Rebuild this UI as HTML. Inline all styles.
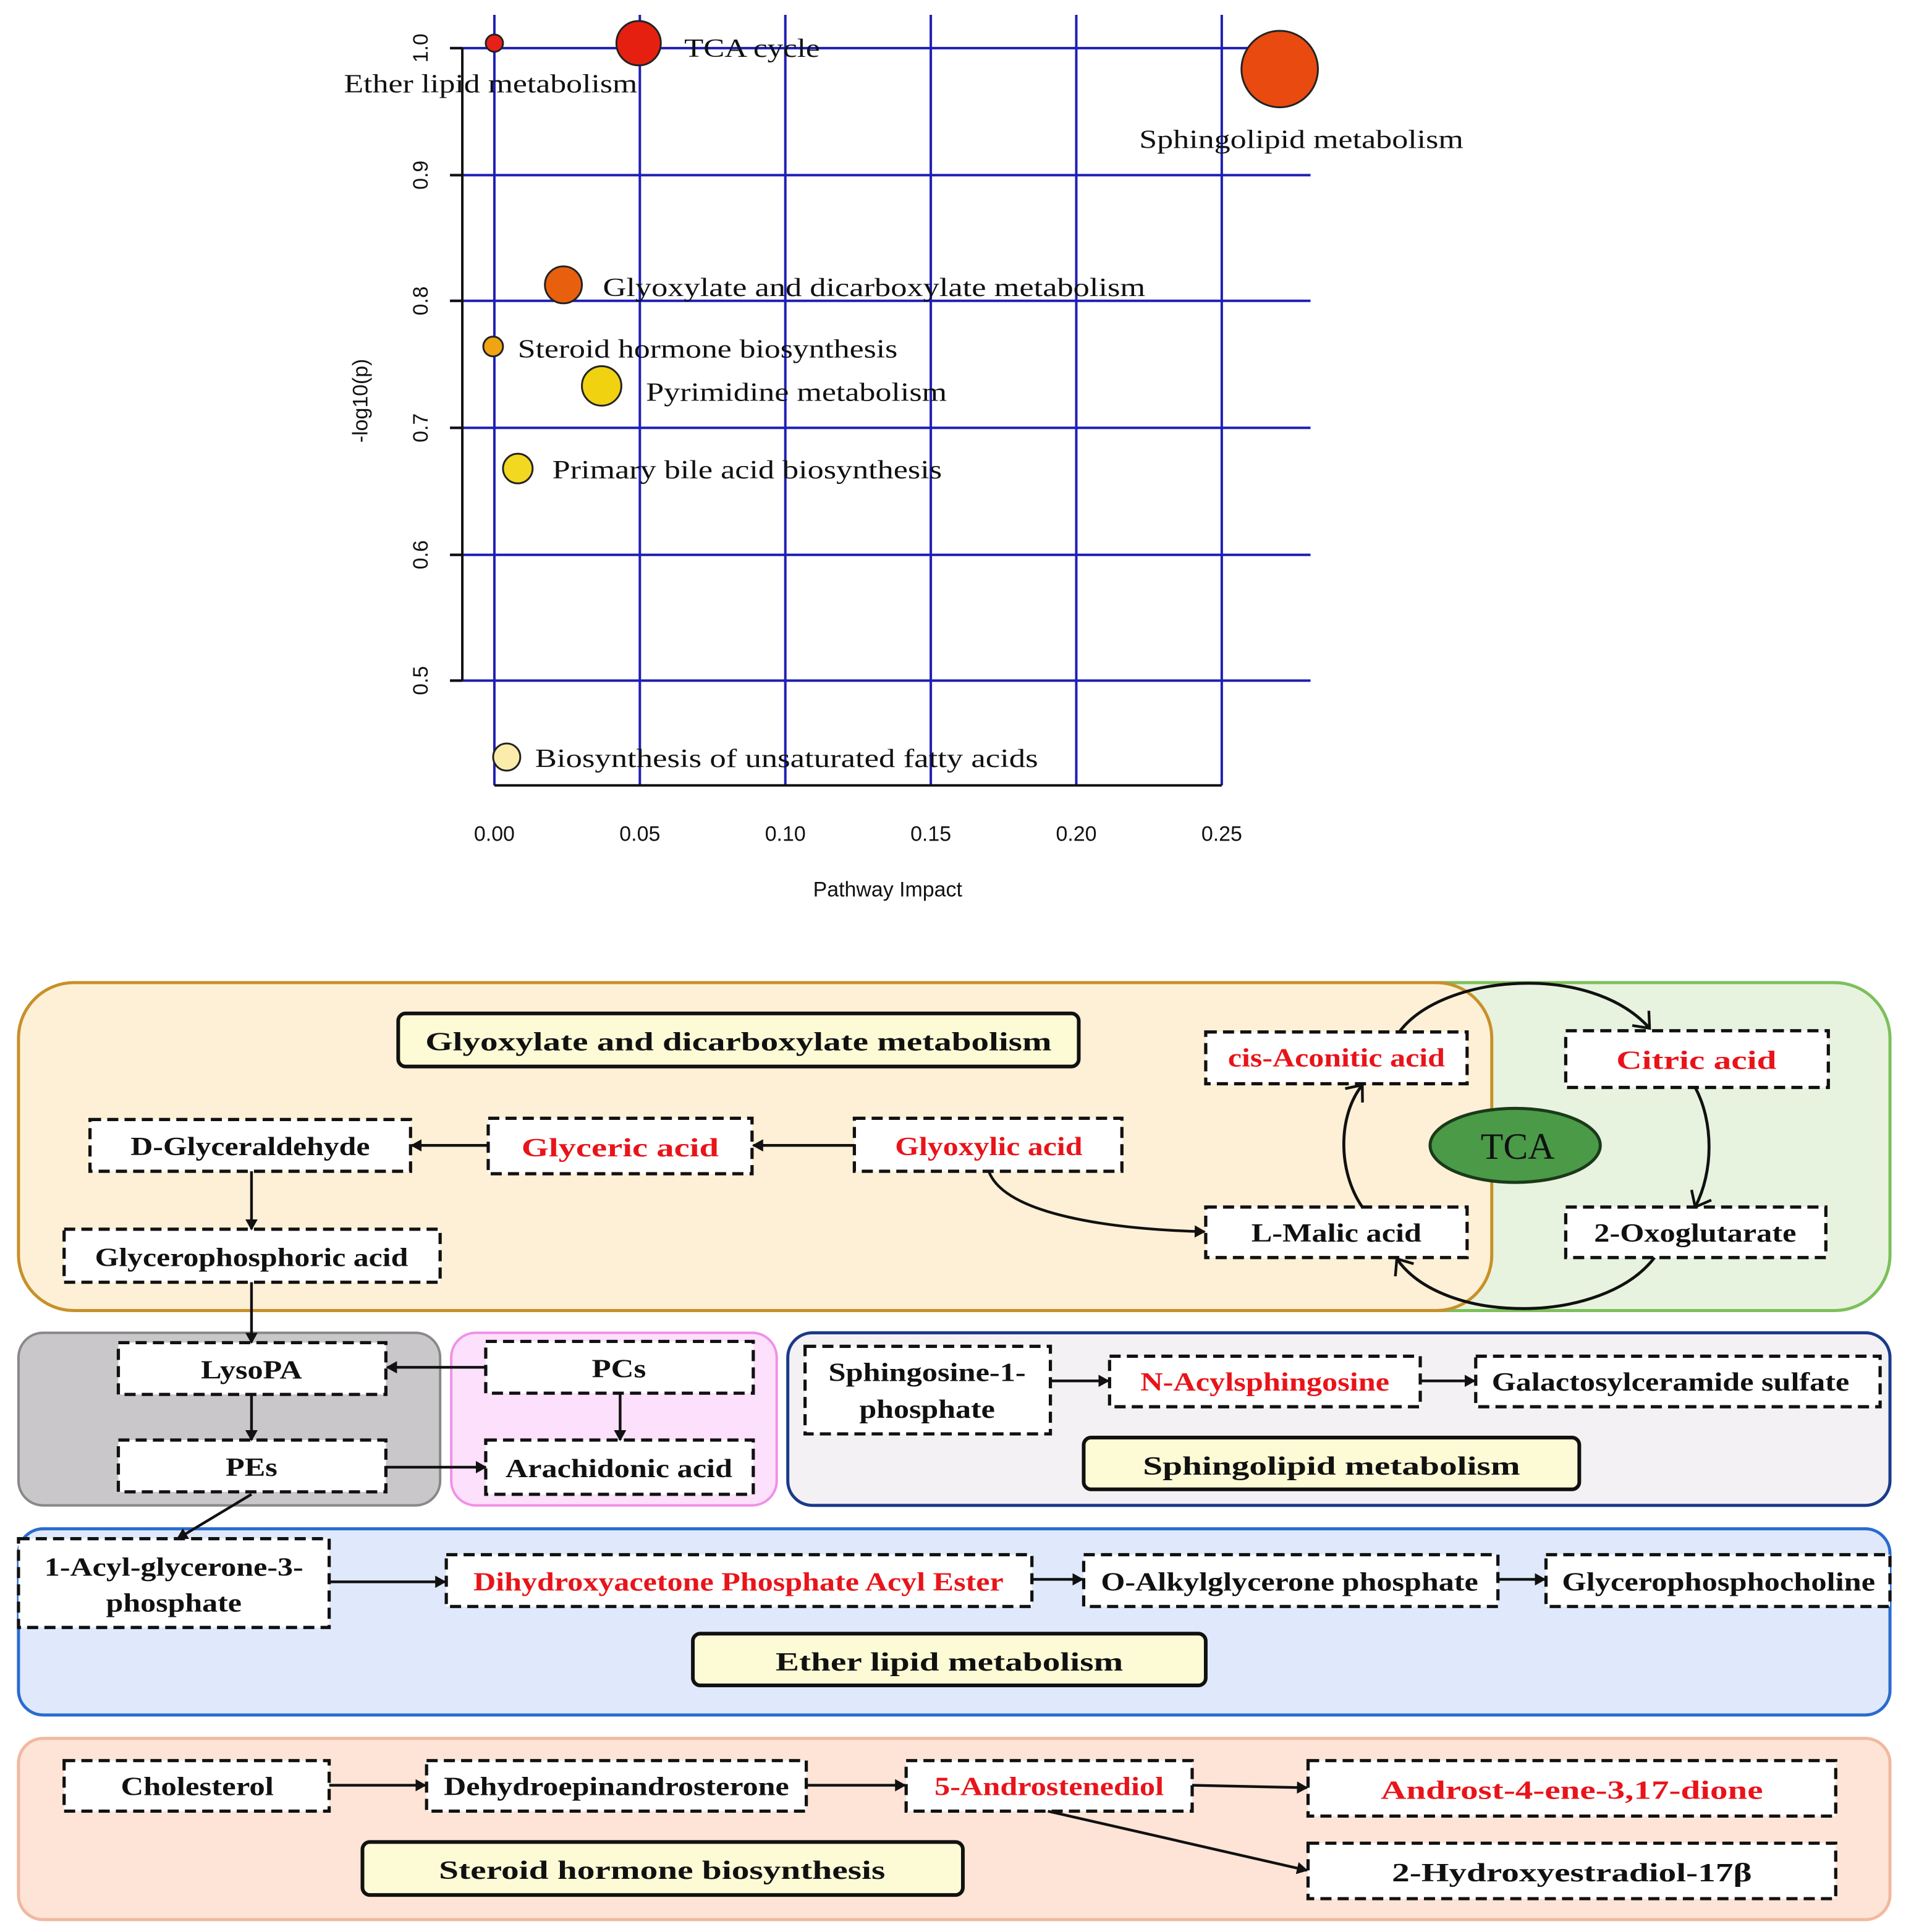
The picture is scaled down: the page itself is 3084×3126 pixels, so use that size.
<!DOCTYPE html>
<html><head><meta charset="utf-8"><style>
html,body{margin:0;padding:0;background:#fff;}
svg{display:block;}
.lab{font-family:"Liberation Serif",serif;font-size:21px;fill:#111;}
.tk{font-family:"Liberation Sans",sans-serif;font-size:17px;fill:#111;}
.n{font-family:"Liberation Serif",serif;font-weight:bold;font-size:21px;fill:#111;}
.r{fill:#e8141a;}
.box{fill:#fff;stroke:#111;stroke-width:2.6;stroke-dasharray:9 5;}
.ttl{fill:#fdfbd6;stroke:#111;stroke-width:3;}
.ar{stroke:#111;stroke-width:2.2;fill:none;}
.cv{stroke:#111;stroke-width:2.4;fill:none;}
.g{stroke:#1f1fb5;stroke-width:2;}
</style></head><body>
<svg width="3084" height="3126" viewBox="0 0 1546 1567" xmlns="http://www.w3.org/2000/svg">
<defs>
<marker id="a" markerWidth="10" markerHeight="10" refX="8" refY="5" orient="auto" markerUnits="userSpaceOnUse"><path d="M0,0 L9,5 L0,10 z" fill="#111"/></marker>
<marker id="o" markerWidth="24" markerHeight="24" refX="12" refY="12" orient="auto" markerUnits="userSpaceOnUse"><path d="M1,3 L12,12 L1,21" fill="none" stroke="#111" stroke-width="2.2"/></marker>
</defs>
<rect width="1546" height="1567" fill="#fff"/>
<!-- chart grid -->
<g class="g">
<line x1="365" y1="39" x2="1063" y2="39"/><line x1="365" y1="142" x2="1063" y2="142"/><line x1="365" y1="244" x2="1063" y2="244"/><line x1="365" y1="347" x2="1063" y2="347"/><line x1="365" y1="450" x2="1063" y2="450"/><line x1="365" y1="552" x2="1063" y2="552"/>
<line x1="401" y1="12" x2="401" y2="637"/><line x1="519" y1="12" x2="519" y2="637"/><line x1="637" y1="12" x2="637" y2="637"/><line x1="755" y1="12" x2="755" y2="637"/><line x1="873" y1="12" x2="873" y2="637"/><line x1="991" y1="12" x2="991" y2="637"/>
</g>
<g stroke="#111" stroke-width="2">
<line x1="375" y1="39" x2="375" y2="552"/>
<line x1="365" y1="39" x2="375" y2="39"/><line x1="365" y1="142" x2="375" y2="142"/><line x1="365" y1="244" x2="375" y2="244"/><line x1="365" y1="347" x2="375" y2="347"/><line x1="365" y1="450" x2="375" y2="450"/><line x1="365" y1="552" x2="375" y2="552"/>
<line x1="401" y1="637" x2="991" y2="637"/>
</g>
<g class="tk" text-anchor="middle">
<text transform="translate(347,39) rotate(-90)">1.0</text>
<text transform="translate(347,142) rotate(-90)">0.9</text>
<text transform="translate(347,244) rotate(-90)">0.8</text>
<text transform="translate(347,347) rotate(-90)">0.7</text>
<text transform="translate(347,450) rotate(-90)">0.6</text>
<text transform="translate(347,552) rotate(-90)">0.5</text>
<text transform="translate(298,325) rotate(-90)">-log10(p)</text>
<text x="401" y="682">0.00</text><text x="519" y="682">0.05</text><text x="637" y="682">0.10</text><text x="755" y="682">0.15</text><text x="873" y="682">0.20</text><text x="991" y="682">0.25</text>
<text x="720" y="727">Pathway Impact</text>
</g>
<g stroke="#222" stroke-width="1.5">
<circle cx="401" cy="35" r="7" fill="#e8201a"/>
<circle cx="518" cy="35" r="18" fill="#e62010"/>
<circle cx="1038" cy="56" r="31" fill="#e84a10"/>
<circle cx="457" cy="231" r="15" fill="#e8600e"/>
<circle cx="400" cy="281" r="8" fill="#f0a412"/>
<circle cx="488" cy="313" r="16" fill="#f0d210"/>
<circle cx="420" cy="380" r="12" fill="#f2d820"/>
<circle cx="411" cy="614" r="11" fill="#fcecac"/>
</g>
<g class="lab">
<text x="555" y="46" textLength="110" lengthAdjust="spacingAndGlyphs">TCA cycle</text>
<text x="279" y="75" textLength="238" lengthAdjust="spacingAndGlyphs">Ether lipid metabolism</text>
<text x="924" y="120" textLength="263" lengthAdjust="spacingAndGlyphs">Sphingolipid metabolism</text>
<text x="489" y="240" textLength="440" lengthAdjust="spacingAndGlyphs">Glyoxylate and dicarboxylate metabolism</text>
<text x="420" y="290" textLength="308" lengthAdjust="spacingAndGlyphs">Steroid hormone biosynthesis</text>
<text x="524" y="325" textLength="244" lengthAdjust="spacingAndGlyphs">Pyrimidine metabolism</text>
<text x="448" y="388" textLength="316" lengthAdjust="spacingAndGlyphs">Primary bile acid biosynthesis</text>
<text x="434" y="622" textLength="408" lengthAdjust="spacingAndGlyphs">Biosynthesis of unsaturated fatty acids</text>
</g>

<!-- panels -->
<rect x="1120" y="797" width="413" height="266" rx="45" fill="#e8f3df" stroke="#7cc05a" stroke-width="2.5"/>
<rect x="15" y="797" width="1195" height="266" rx="45" fill="#fdf0d6" stroke="#c8902a" stroke-width="2.5"/>
<rect x="15" y="1081" width="342" height="140" rx="20" fill="#c9c7c9" stroke="#888" stroke-width="2"/>
<rect x="366" y="1081" width="264" height="140" rx="20" fill="#fde0fb" stroke="#f090e8" stroke-width="2"/>
<rect x="639" y="1081" width="894" height="140" rx="20" fill="#f3f1f3" stroke="#1a3a8a" stroke-width="2.5"/>
<rect x="15" y="1240" width="1518" height="151" rx="20" fill="#dfe9fb" stroke="#2a6bd0" stroke-width="2.5"/>
<rect x="15" y="1410" width="1518" height="147" rx="20" fill="#fde4d6" stroke="#f1b9a0" stroke-width="2.5"/>

<!-- title boxes -->
<rect class="ttl" x="323" y="822" width="552" height="43" rx="6"/>
<text class="n" x="599" y="852" text-anchor="middle" font-size="24" textLength="508" lengthAdjust="spacingAndGlyphs">Glyoxylate and dicarboxylate metabolism</text>
<rect class="ttl" x="879" y="1166" width="402" height="42" rx="6"/>
<text class="n" x="1080" y="1196" text-anchor="middle" font-size="24" textLength="306" lengthAdjust="spacingAndGlyphs">Sphingolipid metabolism</text>
<rect class="ttl" x="562" y="1325" width="416" height="42" rx="6"/>
<text class="n" x="770" y="1355" text-anchor="middle" font-size="24" textLength="282" lengthAdjust="spacingAndGlyphs">Ether lipid metabolism</text>
<rect class="ttl" x="294" y="1494" width="487" height="43" rx="6"/>
<text class="n" x="537" y="1524" text-anchor="middle" font-size="24" textLength="362" lengthAdjust="spacingAndGlyphs">Steroid hormone biosynthesis</text>

<!-- nodes -->
<g>
<rect class="box" x="73" y="908" width="260" height="42"/><text class="n" x="203" y="937" text-anchor="middle" textLength="194" lengthAdjust="spacingAndGlyphs">D-Glyceraldehyde</text>
<rect class="box" x="396" y="907" width="214" height="45"/><text class="n r" x="503" y="938" text-anchor="middle" font-size="24" textLength="160" lengthAdjust="spacingAndGlyphs">Glyceric acid</text>
<rect class="box" x="693" y="907" width="217" height="43"/><text class="n r" x="802" y="937" text-anchor="middle" textLength="152" lengthAdjust="spacingAndGlyphs">Glyoxylic acid</text>
<rect class="box" x="52" y="997" width="305" height="43"/><text class="n" x="204" y="1027" text-anchor="middle" textLength="254" lengthAdjust="spacingAndGlyphs">Glycerophosphoric acid</text>
<rect class="box" x="978" y="837" width="212" height="42"/><text class="n r" x="1084" y="865" text-anchor="middle" textLength="176" lengthAdjust="spacingAndGlyphs">cis-Aconitic acid</text>
<rect class="box" x="1270" y="836" width="213" height="46"/><text class="n r" x="1376" y="867" text-anchor="middle" font-size="24" textLength="130" lengthAdjust="spacingAndGlyphs">Citric acid</text>
<rect class="box" x="978" y="979" width="212" height="41"/><text class="n" x="1084" y="1007" text-anchor="middle" textLength="138" lengthAdjust="spacingAndGlyphs">L-Malic acid</text>
<rect class="box" x="1270" y="979" width="211" height="41"/><text class="n" x="1375" y="1007" text-anchor="middle" textLength="164" lengthAdjust="spacingAndGlyphs">2-Oxoglutarate</text>
<ellipse cx="1229" cy="929" rx="69" ry="30" fill="#4a9a48" stroke="#1a3a1a" stroke-width="2.5"/>
<text x="1231" y="940" text-anchor="middle" font-family="Liberation Serif,serif" font-size="30" fill="#111">TCA</text>

<rect class="box" x="96" y="1089" width="217" height="42"/><text class="n" x="204" y="1118" text-anchor="middle" textLength="82" lengthAdjust="spacingAndGlyphs">LysoPA</text>
<rect class="box" x="96" y="1168" width="217" height="42"/><text class="n" x="204" y="1197" text-anchor="middle" textLength="42" lengthAdjust="spacingAndGlyphs">PEs</text>
<rect class="box" x="394" y="1088" width="217" height="42"/><text class="n" x="502" y="1117" text-anchor="middle" textLength="44" lengthAdjust="spacingAndGlyphs">PCs</text>
<rect class="box" x="394" y="1168" width="217" height="44"/><text class="n" x="502" y="1198" text-anchor="middle" textLength="184" lengthAdjust="spacingAndGlyphs">Arachidonic acid</text>
<rect class="box" x="653" y="1092" width="199" height="71"/><text class="n" x="752" y="1120" text-anchor="middle" textLength="160" lengthAdjust="spacingAndGlyphs">Sphingosine-1-</text><text class="n" x="752" y="1150" text-anchor="middle" textLength="110" lengthAdjust="spacingAndGlyphs">phosphate</text>
<rect class="box" x="900" y="1100" width="252" height="41"/><text class="n r" x="1026" y="1128" text-anchor="middle" textLength="202" lengthAdjust="spacingAndGlyphs">N-Acylsphingosine</text>
<rect class="box" x="1197" y="1100" width="328" height="41"/><text class="n" x="1355" y="1128" text-anchor="middle" textLength="290" lengthAdjust="spacingAndGlyphs">Galactosylceramide sulfate</text>

<rect class="box" x="15" y="1248" width="252" height="72"/><text class="n" x="141" y="1278" text-anchor="middle" textLength="210" lengthAdjust="spacingAndGlyphs">1-Acyl-glycerone-3-</text><text class="n" x="141" y="1307" text-anchor="middle" textLength="110" lengthAdjust="spacingAndGlyphs">phosphate</text>
<rect class="box" x="362" y="1261" width="475" height="42"/><text class="n r" x="599" y="1290" text-anchor="middle" textLength="430" lengthAdjust="spacingAndGlyphs">Dihydroxyacetone Phosphate Acyl Ester</text>
<rect class="box" x="879" y="1261" width="336" height="42"/><text class="n" x="1046" y="1290" text-anchor="middle" textLength="306" lengthAdjust="spacingAndGlyphs">O-Alkylglycerone phosphate</text>
<rect class="box" x="1254" y="1261" width="279" height="42"/><text class="n" x="1394" y="1290" text-anchor="middle" textLength="254" lengthAdjust="spacingAndGlyphs">Glycerophosphocholine</text>

<rect class="box" x="52" y="1428" width="215" height="41"/><text class="n" x="160" y="1456" text-anchor="middle" textLength="124" lengthAdjust="spacingAndGlyphs">Cholesterol</text>
<rect class="box" x="346" y="1428" width="308" height="41"/><text class="n" x="500" y="1456" text-anchor="middle" textLength="280" lengthAdjust="spacingAndGlyphs">Dehydroepinandrosterone</text>
<rect class="box" x="735" y="1428" width="232" height="41"/><text class="n r" x="851" y="1456" text-anchor="middle" textLength="186" lengthAdjust="spacingAndGlyphs">5-Androstenediol</text>
<rect class="box" x="1061" y="1428" width="428" height="45"/><text class="n r" x="1275" y="1459" text-anchor="middle" font-size="24" textLength="310" lengthAdjust="spacingAndGlyphs">Androst-4-ene-3,17-dione</text>
<rect class="box" x="1061" y="1495" width="428" height="45"/><text class="n" x="1275" y="1526" text-anchor="middle" font-size="24" textLength="292" lengthAdjust="spacingAndGlyphs">2-Hydroxyestradiol-17β</text>
</g>

<!-- connectors -->
<g class="ar" marker-end="url(#a)">
<line x1="396" y1="929" x2="334" y2="929"/>
<line x1="693" y1="929" x2="611" y2="929"/>
<line x1="204" y1="950" x2="204" y2="997"/>
<line x1="204" y1="1040" x2="204" y2="1089"/>
<line x1="394" y1="1109" x2="314" y2="1109"/>
<line x1="204" y1="1131" x2="204" y2="1168"/>
<line x1="503" y1="1130" x2="503" y2="1168"/>
<line x1="313" y1="1190" x2="394" y2="1190"/>
<line x1="204" y1="1212" x2="144" y2="1248"/>
<line x1="852" y1="1120" x2="899" y2="1120"/>
<line x1="1152" y1="1120" x2="1196" y2="1120"/>
<line x1="267" y1="1283" x2="361" y2="1283"/>
<line x1="837" y1="1281" x2="878" y2="1281"/>
<line x1="1215" y1="1281" x2="1253" y2="1281"/>
<line x1="267" y1="1448" x2="345" y2="1448"/>
<line x1="654" y1="1448" x2="734" y2="1448"/>
<line x1="967" y1="1448" x2="1060" y2="1450"/>
<line x1="850" y1="1469" x2="1060" y2="1517"/>
<path d="M802,950 C815,985 900,997 977,999"/>
</g>
<g class="cv" marker-end="url(#o)">
<path d="M1105,979 C1085,950 1085,905 1105,880"/>
<path d="M1135,837 C1170,790 1290,780 1338,834"/>
<path d="M1375,882 C1390,910 1390,950 1375,979"/>
<path d="M1342,1020 C1300,1075 1170,1075 1133,1021"/>
</g>
</svg>
</body></html>
